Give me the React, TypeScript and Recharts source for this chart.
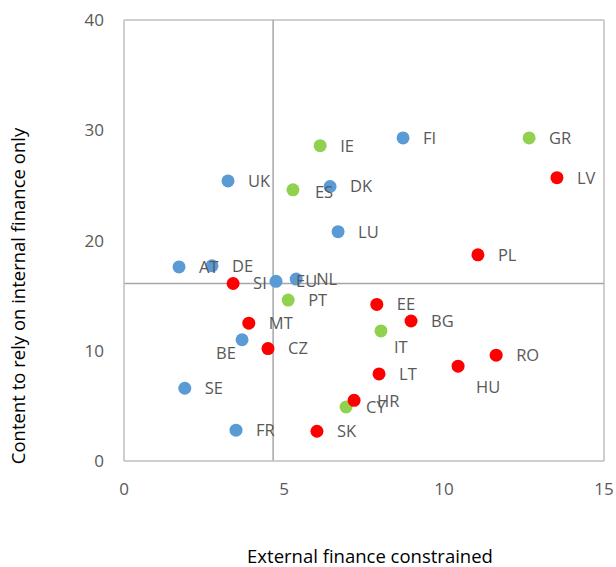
import { ScatterChart, Scatter, XAxis, YAxis, ReferenceLine, LabelList } from "recharts";

// countries by group
const blueCountries = ["FI", "UK", "DK", "LU", "AT", "DE", "EU", "NL", "BE", "SE", "FR"];
const blueX = [8.72, 3.25, 6.44, 6.69, 1.72, 2.75, 4.75, 5.38, 3.69, 1.9, 3.5];
const blueY = [29.3, 25.4, 24.9, 20.8, 17.6, 17.7, 16.3, 16.5, 11.0, 6.6, 2.8];

const greenCountries = ["GR", "IE", "ES", "PT", "IT", "CY"];
const greenX = [12.66, 6.13, 5.28, 5.13, 8.03, 6.94];
const greenY = [29.3, 28.6, 24.6, 14.6, 11.8, 4.9];

const redCountries = ["LV", "PL", "SI", "EE", "BG", "MT", "CZ", "RO", "HU", "LT", "HR", "SK"];
const redX = [13.53, 11.06, 3.41, 7.9, 8.97, 3.9, 4.5, 11.63, 10.44, 7.97, 7.19, 6.03];
const redY = [25.7, 18.7, 16.1, 14.2, 12.7, 12.5, 10.2, 9.6, 8.6, 7.9, 5.5, 2.7];

const xTicks = [0, 5, 10, 15];
const yTicks = [0, 10, 20, 30, 40];
const medianX = 4.66;
const medianY = 16.1;

const build = (names: string[], xs: number[], ys: number[]) =>
  names.map((name, i) => ({ name, x: xs[i], y: ys[i] }));

const blueData = build(blueCountries, blueX, blueY);
const greenData = build(greenCountries, greenX, greenY);
const redData = build(redCountries, redX, redY);

// labels that don't sit plainly to the right of their dot
const labelShift: Record<string, [number, number]> = {
  BE: [-26, 13],
  IT: [13, 16],
  HU: [18, 21],
  ES: [22, 2],
  HR: [23, 1],
};

const FONT = "'Open Sans', sans-serif";

const CountryLabel = (props: any) => {
  const { x, y, width, height, value } = props;
  const cx = x + width / 2;
  const cy = y + height / 2;
  const [dx, dy] = labelShift[value] ?? [20, 0];
  return (
    <text x={cx + dx} y={cy + dy} dy="0.36em" fill="#595959" fontSize={16.5} fontFamily={FONT}>
      {value}
    </text>
  );
};

const YTitle = () => (
  <text
    x={18}
    y={296}
    transform="rotate(-90 18 296)"
    textAnchor="middle"
    dy="0.36em"
    fill="#000"
    fontSize={18.5}
    fontFamily={FONT}
  >
    Content to rely on internal finance only
  </text>
);

const Dot = (color: string) => (props: any) => (
  <circle cx={props.cx} cy={props.cy} r={6.5} fill={color} />
);

export default function App() {
  return (
    <div style={{ position: "fixed", left: 0, top: 0, background: "#fff" }}>
      <ScatterChart width={616} height={567} margin={{ top: 20, right: 12, bottom: 0, left: 0 }}>
        <XAxis
          type="number"
          dataKey="x"
          domain={[0, 15]}
          ticks={xTicks}
          height={106}
          tickLine={false}
          axisLine={{ stroke: "#BFBFBF", strokeWidth: 1.5 }}
          tickMargin={16}
          tick={{ fill: "#595959", fontSize: 17, fontFamily: FONT }}
          label={{
            value: "External finance constrained",
            position: "insideBottom",
            offset: 4,
            dx: 6,
            fill: "#000",
            fontSize: 18.5,
            fontFamily: FONT,
          }}
        />
        <YAxis
          type="number"
          dataKey="y"
          domain={[0, 40]}
          ticks={yTicks}
          width={124}
          tickLine={false}
          axisLine={{ stroke: "#BFBFBF", strokeWidth: 1.5 }}
          tickMargin={14}
          tick={{ fill: "#595959", fontSize: 17, fontFamily: FONT }}
          label={{ content: YTitle }}
        />
        <ReferenceLine y={40} stroke="#BFBFBF" strokeWidth={1.5} />
        <ReferenceLine x={15} stroke="#BFBFBF" strokeWidth={1.5} />
        <ReferenceLine x={medianX} stroke="#A6A6A6" strokeWidth={1.5} />
        <ReferenceLine y={medianY} stroke="#A6A6A6" strokeWidth={1.5} />
        <Scatter data={blueData} fill="#5B9BD5" shape={Dot("#5B9BD5")} isAnimationActive={false}>
          <LabelList dataKey="name" content={CountryLabel} />
        </Scatter>
        <Scatter data={greenData} fill="#92D050" shape={Dot("#92D050")} isAnimationActive={false}>
          <LabelList dataKey="name" content={CountryLabel} />
        </Scatter>
        <Scatter data={redData} fill="#FF0000" shape={Dot("#FF0000")} isAnimationActive={false}>
          <LabelList dataKey="name" content={CountryLabel} />
        </Scatter>
      </ScatterChart>
    </div>
  );
}
